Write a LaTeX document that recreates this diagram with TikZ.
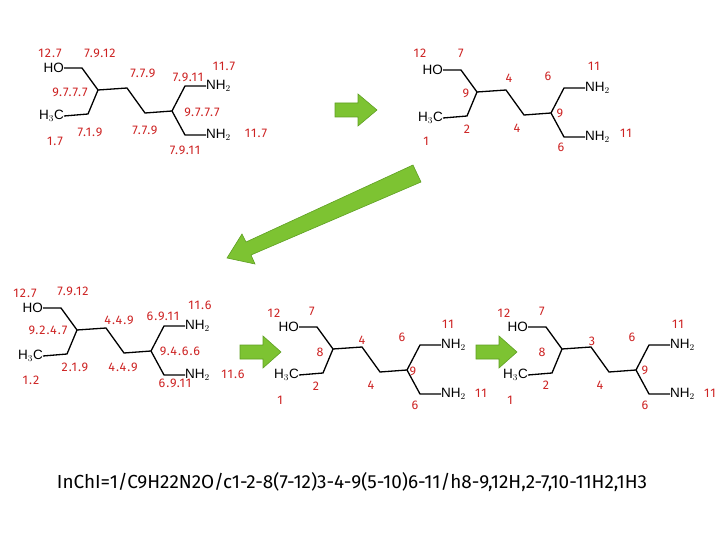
\documentclass[tikz,border=0pt]{standalone}
\usepackage{fontspec}
\setmainfont{Liberation Sans}
\newfontfamily\lblfont{Fira Sans}
\definecolor{lred}{RGB}{205,35,35}
\definecolor{agreen}{RGB}{125,195,50}
\definecolor{agreend}{RGB}{95,160,35}
\tikzset{lbl/.style={text=lred,font=\lblfont\fontsize{12.5}{12.5}\selectfont\addfontfeatures{LetterSpace=8},inner sep=0pt},
atom/.style={font=\fontsize{13.5}{13.5}\selectfont,inner sep=0pt},
bond/.style={line width=1.3pt},
garrow/.style={fill=agreen,draw=agreend,line width=0.6pt}}
\newcommand\molecule[2]{%
\begin{scope}[shift={(#1,#2)}]
\node[atom,anchor=east] (ho) at (-34,-22) {HO};
\node[atom,anchor=east] (me) at (-34,26) {H$_3$C};
\node[atom,anchor=west] (n1) at (108,-4) {NH$_2$};
\node[atom,anchor=west] (n2) at (108,45) {NH$_2$};
\draw[bond] (ho.east) -- (-16,-22) -- (0,0) -- (29,-2) -- (47,23) -- (74,21) -- (87,-4) -- (n1.west);
\draw[bond] (me.east) -- (-10,24) -- (0,0);
\draw[bond] (74,21) -- (87,45) -- (n2.west);
\end{scope}}
\begin{document}
\begin{tikzpicture}[x=1pt,y=-1pt]
\useasboundingbox (0,0) rectangle (720,540);
\molecule{98}{90}
\molecule{477}{92}
\molecule{77}{330}
\molecule{333}{349}
\molecule{562}{349}
\foreach \t/\x/\y in {12.7/50/53, 7.9.12/100/53, 11.7/224/66, 7.7.9/143/73, 7.9.11/188/77, 9.7.7.7/70/92, 9.7.7.7/202/112, 7.1.9/90/132, 7.7.9/145/130, 11.7/256/133, 1.7/55/141, 7.9.11/185/150,
12/420/53, 7/461/53, 11/594/66, 4/509/78, 6/548/76, 9/466/93, 9/560/113, 2/467/129, 4/517/128, 1/426/141, 11/626/133, 6/561/147,
12.7/25/293, 7.9.12/73/291, 11.6/200/305, 4.4.9/119/320, 6.9.11/163/316, 9.2.4.7/48/330, 9.4.6.6/180/351, 2.1.9/75/367, 4.4.9/123/367, 11.6/233/374, 1.2/31/380, 6.9.11/175/383,
12/274/313, 7/312/311, 11/448/324, 4/362/340, 6/402/337, 8/320/352, 9/413/371, 2/316/386, 4/371/385, 1/280/400, 11/481/393, 6/415/405,
12/504/313, 7/542/311, 11/678/324, 3/592/341, 6/632/337, 8/542/352, 9/645/370, 2/546/385, 4/600/385, 1/510/400, 11/710/393, 6/645/405}
  \node[lbl] at (\x,\y) {\t};
\draw[garrow] (335,103) -- (358,103) -- (358,94) -- (377,110) -- (358,126) -- (358,117) -- (335,117) -- cycle;
\draw[garrow] (240,345) -- (263,345) -- (263,336) -- (281,352) -- (263,368) -- (263,359) -- (240,359) -- cycle;
\draw[garrow] (476,345) -- (499,345) -- (499,336) -- (517,352) -- (499,368) -- (499,359) -- (476,359) -- cycle;
\draw[garrow] (413,165) -- (421,182) -- (251,255) -- (255,264) -- (227,258) -- (242,234) -- (246,242) -- cycle;
\node[inner sep=0pt] (inchi) at (352,482) {\resizebox{590pt}{!}{\lblfont InChI=1/C9H22N2O/c1-2-8(7-12)3-4-9(5-10)6-11/h8-9,12H,2-7,10-11H2,1H3}};
\end{tikzpicture}
\end{document}
